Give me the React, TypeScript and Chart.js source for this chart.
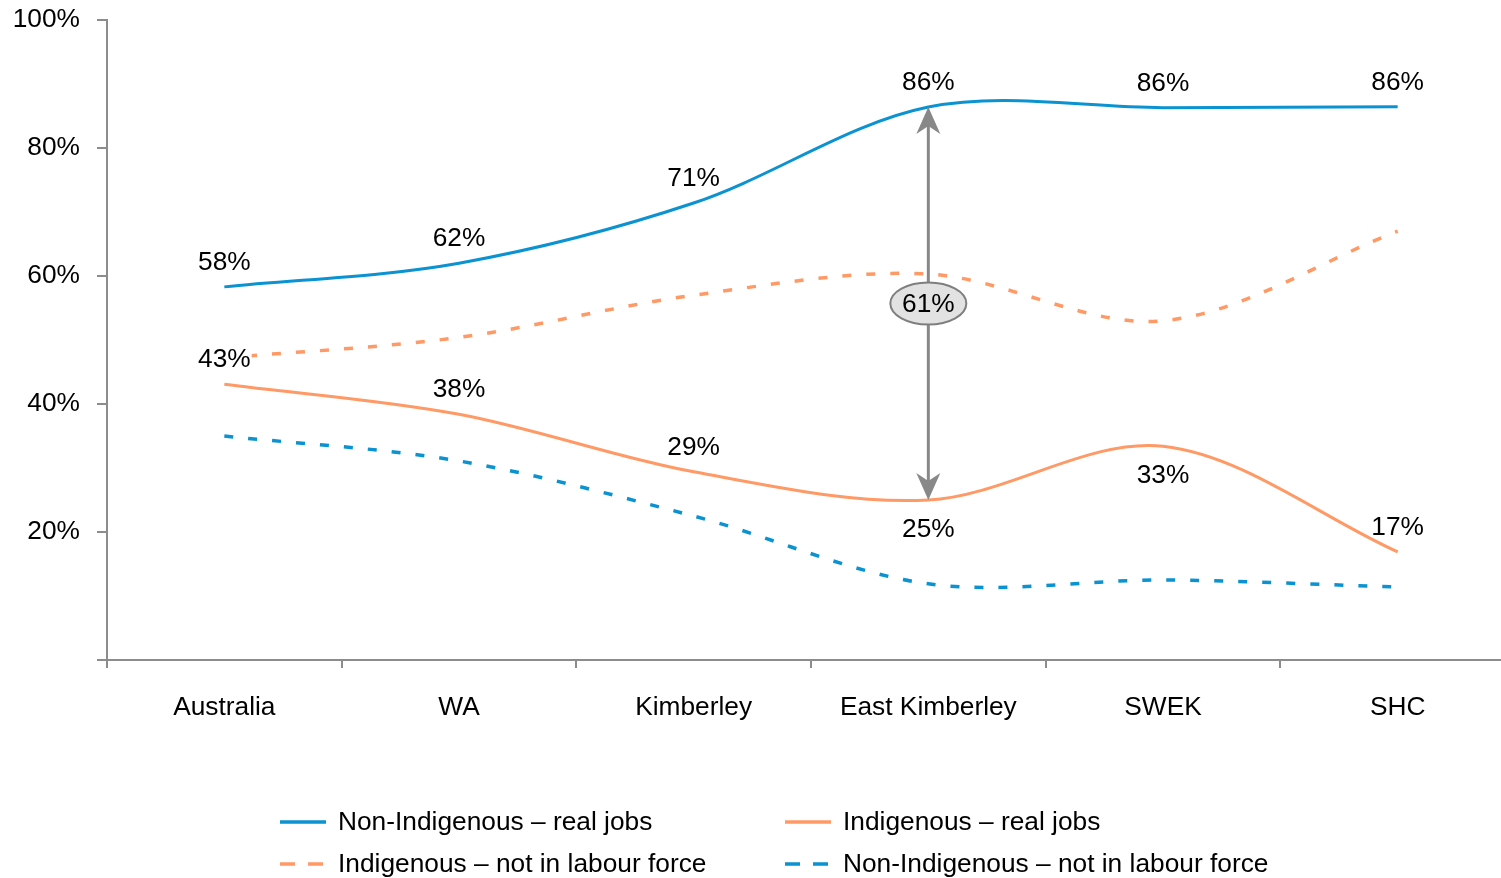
import React, { useEffect, useRef } from 'react';
import { Chart, registerables } from 'chart.js';

Chart.register(...registerables);

// ---- data ----
const categories = ['Australia', 'WA', 'Kimberley', 'East Kimberley', 'SWEK', 'SHC'];
const nonIndigenousRealJobs = [58.3, 62.0, 71.4, 86.4, 86.3, 86.45];
const indigenousRealJobs = [43.1, 38.4, 29.4, 25.0, 33.4, 16.9];
const indigenousNotInLabourForce = [47.2, 50.4, 57.0, 60.3, 53.0, 67.0];
const nonIndigenousNotInLabourForce = [35.0, 31.1, 22.5, 11.9, 12.5, 11.4];
const seriesNames = [
  'Non-Indigenous \u2013 real jobs',
  'Indigenous \u2013 real jobs',
  'Indigenous \u2013 not in labour force',
  'Non-Indigenous \u2013 not in labour force',
];
const nonIndigenousLabelSide = ['above', 'above', 'above', 'above', 'above', 'above'];
const indigenousLabelSide = ['above', 'above', 'above', 'below', 'below', 'above'];
const gapCategoryIndex = 3;

const BLUE = '#0a93d0';
const ORANGE = '#ff9966';
const AXIS = '#8c8c8c';
const FONT = '"Liberation Sans", Arial, sans-serif';
const FS = 26.3;

const overlayPlugin = {
  id: 'overlay',
  afterDatasetsDraw(chart: any) {
    const ctx = chart.ctx;
    ctx.save();
    ctx.font = `${FS}px ${FONT}`;
    ctx.textAlign = 'center';
    ctx.textBaseline = 'middle';
    const specs = [
      { ds: 0, side: nonIndigenousLabelSide },
      { ds: 1, side: indigenousLabelSide },
    ];
    specs.forEach(({ ds, side }) => {
      const meta = chart.getDatasetMeta(ds);
      const data = chart.data.datasets[ds].data as number[];
      meta.data.forEach((pt: any, i: number) => {
        const txt = Math.round(data[i]) + '%';
        const y = pt.y + (side[i] === 'above' ? -25 : 29);
        const w = ctx.measureText(txt).width;
        ctx.fillStyle = '#ffffff';
        ctx.fillRect(pt.x - w / 2 - 1, y - 10, w + 2, 20);
        ctx.fillStyle = '#000000';
        ctx.fillText(txt, pt.x, y + 1);
      });
    });

    // gap arrow
    const top = chart.getDatasetMeta(0).data[gapCategoryIndex];
    const bot = chart.getDatasetMeta(1).data[gapCategoryIndex];
    const x = top.x;
    const y0 = top.y;
    const y1 = bot.y;
    ctx.strokeStyle = '#888888';
    ctx.fillStyle = '#888888';
    ctx.lineWidth = 3;
    ctx.beginPath();
    ctx.moveTo(x, y0 + 18);
    ctx.lineTo(x, y1 - 18);
    ctx.stroke();
    const head = (tipY: number, dir: number) => {
      ctx.beginPath();
      ctx.moveTo(x, tipY);
      ctx.lineTo(x - 12, tipY + dir * 27);
      ctx.lineTo(x, tipY + dir * 19);
      ctx.lineTo(x + 12, tipY + dir * 27);
      ctx.closePath();
      ctx.fill();
    };
    head(y0, 1);
    head(y1, -1);
    const cy = (y0 + y1) / 2;
    ctx.beginPath();
    ctx.ellipse(x, cy, 38, 21, 0, 0, Math.PI * 2);
    ctx.fillStyle = '#e2e2e2';
    ctx.fill();
    ctx.lineWidth = 2;
    ctx.strokeStyle = '#7f7f7f';
    ctx.stroke();
    const d0 = chart.data.datasets[0].data[gapCategoryIndex] as number;
    const d1 = chart.data.datasets[1].data[gapCategoryIndex] as number;
    ctx.fillStyle = '#000000';
    ctx.fillText(Math.round(d0) - Math.round(d1) + '%', x, cy + 1);
    ctx.restore();
  },
  afterDraw(chart: any) {
    const ctx = chart.ctx;
    ctx.save();
    ctx.font = `${FS}px ${FONT}`;
    ctx.textAlign = 'left';
    ctx.textBaseline = 'middle';
    const cols = [280, 785];
    const rows = [822, 864];
    const order = [0, 1, 2, 3];
    order.forEach((dsIdx, k) => {
      const ds = chart.data.datasets[dsIdx];
      const sx = cols[k % 2];
      const sy = rows[Math.floor(k / 2)];
      ctx.strokeStyle = ds.borderColor;
      ctx.lineWidth = 3.5;
      ctx.setLineDash(ds.borderDash && ds.borderDash.length ? [15, 13] : []);
      ctx.beginPath();
      ctx.moveTo(sx, sy);
      ctx.lineTo(sx + 46, sy);
      ctx.stroke();
      ctx.setLineDash([]);
      ctx.fillStyle = '#000000';
      ctx.fillText(ds.label, sx + 58, sy + 1);
    });
    ctx.restore();
  },
};

export default function App() {
  const ref = useRef<HTMLCanvasElement | null>(null);
  useEffect(() => {
    if (!ref.current) return;
    const chart = new Chart(ref.current, {
      type: 'line',
      data: {
        labels: categories,
        datasets: [
          { label: seriesNames[0], data: nonIndigenousRealJobs, borderColor: BLUE, borderWidth: 3, borderDash: [] },
          { label: seriesNames[1], data: indigenousRealJobs, borderColor: ORANGE, borderWidth: 3, borderDash: [] },
          { label: seriesNames[2], data: indigenousNotInLabourForce, borderColor: ORANGE, borderWidth: 3.5, borderDash: [9, 15] },
          { label: seriesNames[3], data: nonIndigenousNotInLabourForce, borderColor: BLUE, borderWidth: 3.5, borderDash: [9, 15] },
        ].map((d) => ({ ...d, pointRadius: 0, pointHoverRadius: 0, tension: 0.33, fill: false, backgroundColor: d.borderColor })),
      },
      options: {
        responsive: false,
        animation: false,
        events: [],
        layout: { padding: { top: 20, right: 5, bottom: 180, left: 0 } },
        plugins: { legend: { display: false }, tooltip: { enabled: false } },
        scales: {
          x: {
            type: 'category',
            offset: true,
            grid: { offset: true, drawOnChartArea: false, drawTicks: true, tickLength: 8, color: AXIS, lineWidth: 2 },
            border: { color: AXIS, width: 2 },
            ticks: { color: '#000', font: { family: FONT, size: FS }, padding: 24, maxRotation: 0, autoSkip: false },
            afterFit: (s: any) => { s.height = 60; s.paddingLeft = 0; s.paddingRight = 0; },
          },
          y: {
            min: 0,
            max: 100,
            grid: { drawOnChartArea: false, drawTicks: true, tickLength: 10, color: AXIS, lineWidth: 2 },
            border: { color: AXIS, width: 2 },
            ticks: {
              stepSize: 20,
              color: '#000',
              font: { family: FONT, size: FS },
              padding: 17,
              callback: (v: any) => (v === 0 ? '' : v + '%'),
            },
            afterFit: (s: any) => { s.width = 107; s.paddingTop = 0; s.paddingBottom = 0; },
          },
        },
      },
      plugins: [overlayPlugin],
    } as any);
    return () => chart.destroy();
  }, []);
  return (
    <div style={{ position: 'fixed', left: 0, top: 0, width: 1501, height: 878, overflow: 'hidden', background: '#fff' }}>
      <canvas ref={ref} width={1520} height={900} style={{ display: 'block' }} />
    </div>
  );
}
